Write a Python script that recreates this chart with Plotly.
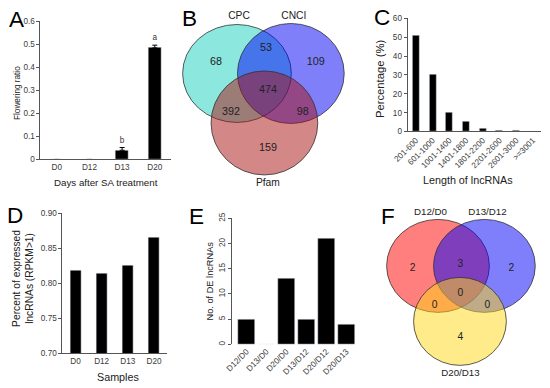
import plotly.graph_objects as go

W, H = 550, 388

# ---------------- data ----------------
days = ["D0", "D12", "D13", "D20"]
flowering_ratio = [0.0, 0.0, 0.04, 0.485]
flowering_err = [0.0, 0.0, 0.012, 0.012]
flowering_sig = ["", "", "b", "a"]

length_bins = ["201-600", "601-1000", "1001-1400", "1401-1800", "1801-2200",
               "2201-2600", "2601-3000", ">=3001"]
length_pct = [51.2, 30.0, 10.2, 5.3, 1.6, 0.35, 0.35, 0.1]

samples = ["D0", "D12", "D13", "D20"]
expressed_pct = [0.818, 0.814, 0.825, 0.865]

de_pairs = ["D12/D0", "D13/D0", "D20/D0", "D13/D12", "D20/D12", "D20/D13"]
de_counts = [5, 0, 13, 5, 21, 4]

venn_b_sets = ["CPC", "CNCI", "Pfam"]
# regions: CPC only, CPC&CNCI, CNCI only, all three, CPC&Pfam, CNCI&Pfam, Pfam only
venn_b_counts = [68, 53, 109, 474, 392, 98, 159]

venn_f_sets = ["D12/D0", "D13/D12", "D20/D13"]
# regions: 1 only, 1&2, 2 only, all three, 1&3, 2&3, 3 only
venn_f_counts = [2, 3, 2, 0, 0, 0, 4]

# ---------------- helpers ----------------
# positions below are given in reference-picture pixels; map them to the page
AX, SX = 13.5, 0.975
AY, SY = 5.5, 0.972
FS = 1 / 0.975

def xf(rx):
    return ((rx - AX) / SX) / W

def yf(ry):
    return 1 - ((ry - AY) / SY) / H

FONT = "Liberation Sans, Arial, sans-serif"
TICK = "#3a3a3a"

fig = go.Figure()

# ---------- Panel A ----------
fig.add_trace(go.Bar(x=days, y=flowering_ratio, width=0.4, marker_color="black",
                     error_y=dict(type="data", array=flowering_err,
                                  arrayminus=[0] * len(flowering_err), symmetric=False,
                                  color="black", thickness=1, width=2.5),
                     xaxis="x", yaxis="y", showlegend=False))
fig.add_trace(go.Scatter(x=days, y=[v + e + 0.012 for v, e in zip(flowering_ratio, flowering_err)],
                         text=flowering_sig, mode="text", textposition="top center",
                         textfont=dict(size=8 * FS, color="#333", family=FONT),
                         xaxis="x", yaxis="y", showlegend=False, cliponaxis=False))

# ---------- Panel C ----------
fig.add_trace(go.Bar(x=length_bins, y=length_pct, width=0.42, marker_color="black",
                     xaxis="x2", yaxis="y2", showlegend=False))

# ---------- Panel D ----------
fig.add_trace(go.Bar(x=samples, y=expressed_pct, width=0.42, marker_color="black",
                     xaxis="x3", yaxis="y3", showlegend=False))

# ---------- Panel E ----------
fig.add_trace(go.Bar(x=de_pairs, y=de_counts, width=0.85, marker_color="black",
                     xaxis="x4", yaxis="y4", showlegend=False))

# ---------- Venn panels B and F ----------
b_circles = [((236, 73), 54.5, 49, "rgba(25,209,189,0.5)"),
             ((290, 73), 53.5, 50, "rgba(0,0,245,0.5)"),
             ((263.5, 122.5), 53.5, 52, "rgba(170,15,15,0.5)")]
b_set_pos = [(238, 16), (293, 16), (267, 183)]
b_region_pos = [(215, 62), (265, 48), (315, 62), (267, 90), (230, 112), (302, 112), (267, 148)]

f_circles = [((437.5, 265.5), 51.5, 46.5, "rgba(255,0,0,0.5)"),
             ((484, 265.5), 51, 46.5, "rgba(0,0,250,0.5)"),
             ((459.5, 321), 46.5, 44, "rgba(255,215,20,0.5)")]
f_set_pos = [(430, 212), (487, 212), (460, 373)]
f_region_pos = [(412, 268), (460, 264), (511, 268), (460, 293), (434, 305), (487, 305), (460, 337)]

shapes = []
for (cx, cy), rx, ry, col in b_circles + f_circles:
    shapes.append(dict(type="circle", xref="x5", yref="y5", layer="below",
                       x0=cx - rx, x1=cx + rx, y0=cy - ry, y1=cy + ry,
                       fillcolor=col, line=dict(color="#333333", width=0.8)))

def venn_text(pos, labels, size):
    fig.add_trace(go.Scatter(x=[p[0] for p in pos], y=[p[1] for p in pos],
                             text=labels, mode="text",
                             textfont=dict(size=size * FS, color="#222", family=FONT),
                             xaxis="x5", yaxis="y5", showlegend=False, hoverinfo="skip",
                             cliponaxis=False))

venn_text(b_region_pos, [str(c) for c in venn_b_counts], 10.5)
venn_text(b_set_pos, venn_b_sets, 10)
venn_text(f_region_pos, [str(c) for c in venn_f_counts], 10)
venn_text(f_set_pos, venn_f_sets, 9.5)

# ---------------- annotations ----------------
ann = []
def txt(x, y, s, size, angle=0, color="#222"):
    ann.append(dict(x=xf(x), y=yf(y), xref="paper", yref="paper", text=s, showarrow=False,
                    textangle=angle, xanchor="center", yanchor="middle",
                    font=dict(size=size * FS, color=color, family=FONT)))

for lx, ly, L in [(15, 19, "A"), (188, 18, "B"), (381, 17, "C"),
                  (13, 215, "D"), (195, 216, "E"), (387, 216, "F")]:
    txt(lx, ly, L, 22, color="black")

txt(105, 182, "Days after SA treatment", 9.5)
txt(16, 92, "Flowering ratio", 8, angle=-90)
txt(468, 180, "Length of lncRNAs", 10.5)
txt(380, 78, "Percentage (%)", 11, angle=-90)
txt(117, 377, "Samples", 10.5)
txt(22, 278, "Percent of expressed<br>lncRNAs (RPKM>1)", 10, angle=-90)
txt(209, 281, "No. of DE lncRNAs", 9, angle=-90)

tickfont = dict(size=8 * FS, color=TICK, family=FONT)
common_y = dict(showline=True, linecolor="#555", linewidth=1, ticks="outside", ticklen=3,
                tickcolor="#555", showgrid=False, zeroline=False, tickfont=tickfont)
common_x = dict(showline=True, linecolor="#555", linewidth=1, showgrid=False,
                zeroline=False, tickfont=tickfont, ticks="")

fig.update_layout(
    width=W, height=H, margin=dict(l=0, r=0, t=0, b=0),
    paper_bgcolor="white", plot_bgcolor="rgba(0,0,0,0)",
    font=dict(family=FONT),
    bargap=0,
    xaxis=dict(domain=[xf(39), xf(170)], range=[-0.5, 3.5], anchor="y", **common_x),
    yaxis=dict(domain=[yf(159), yf(21)], range=[0, 0.6], anchor="x",
               tickvals=[0, 0.1, 0.2, 0.3, 0.4, 0.5, 0.6],
               ticktext=["0", "0.1", "0.2", "0.3", "0.4", "0.5", "0.6"], **common_y),
    xaxis2=dict(domain=[xf(407), xf(541)], range=[-0.5, 7.5], anchor="y2", tickangle=-45,
                **common_x),
    yaxis2=dict(domain=[yf(131), yf(18)], range=[0, 60], dtick=10, anchor="x2", **common_y),
    xaxis3=dict(domain=[xf(61), xf(166)], range=[-0.5, 3.5], anchor="y3", **common_x),
    yaxis3=dict(domain=[yf(353), yf(213)], range=[0.7, 0.9], dtick=0.05, tickformat=".2f",
                anchor="x3", **common_y),
    xaxis4=dict(domain=[xf(231), xf(357.5)], range=[-0.725, 5.6], anchor="y4",
                showline=False, showgrid=False, zeroline=False, tickangle=-45,
                tickfont=tickfont, ticks=""),
    yaxis4=dict(domain=[yf(344), yf(218)], range=[0, 25], dtick=5, anchor="x4",
                tickangle=-90, **common_y),
    xaxis5=dict(domain=[0, 1], range=[AX, AX + SX * W], visible=False, anchor="y5",
                fixedrange=True),
    yaxis5=dict(domain=[0, 1], range=[AY + SY * H, AY], visible=False, anchor="x5",
                fixedrange=True),
    shapes=shapes,
    annotations=ann,
)

fig.write_html("out.html", config={"displayModeBar": False},
               post_script="document.body.style.margin='0';")
